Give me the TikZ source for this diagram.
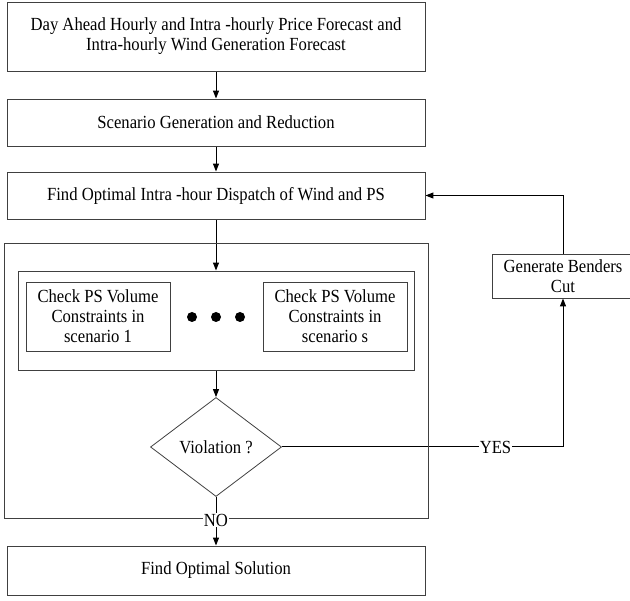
\documentclass[tikz,border=0pt]{standalone}
\usepackage{fontspec}
\setmainfont[FakeStretch=0.9]{Liberation Serif}
\usepackage{tikz}
\usetikzlibrary{shapes.geometric, arrows.meta}
\pgfdeclarelayer{edgelayer}
\pgfdeclarelayer{nodelayer}
\pgfsetlayers{edgelayer,nodelayer,main}
\tikzstyle{none}=[inner sep=0pt]
\tikzstyle{block}=[draw=black!75, line width=0.9pt, inner sep=0pt, align=center]
\tikzstyle{frame}=[draw=black!75, line width=0.9pt, inner sep=0pt]
\tikzstyle{dot}=[circle, fill=black, inner sep=0pt, minimum size=10pt]
\tikzstyle{decision}=[diamond, draw=black!75, line width=0.8pt, inner sep=0pt]
\tikzstyle{tag}=[fill=white, inner sep=1pt]
\tikzstyle{edge}=[draw=black, line width=1pt]
\tikzstyle{arrow}=[edge, -{Triangle[length=8pt, width=6pt]}]

\begin{document}
\begin{tikzpicture}[x=1pt, y=-1pt, font=\fontsize{18.5}{20}\selectfont]
			\useasboundingbox (0, 0) rectangle (630, 601);
			\begin{pgfonlayer}{nodelayer}
			\node [style=block, minimum width=418pt, minimum height=69pt] (0) at (216, 36.5) {Day Ahead Hourly and Intra -hourly Price Forecast and\\Intra-hourly Wind Generation Forecast};
			\node [style=block, minimum width=418pt, minimum height=47pt] (1) at (216, 122.5) {Scenario Generation and Reduction};
			\node [style=block, minimum width=418pt, minimum height=47pt] (2) at (216, 195.5) {Find Optimal Intra -hour Dispatch of Wind and PS};
			\node [style=frame, minimum width=424pt, minimum height=275pt] (3) at (216, 380.5) {};
			\node [style=frame, minimum width=396pt, minimum height=99pt] (4) at (216, 320.5) {};
			\node [style=block, minimum width=144pt, minimum height=69pt] (5) at (98, 316.5) {Check PS Volume\\Constraints in\\scenario 1};
			\node [style=block, minimum width=144pt, minimum height=69pt] (6) at (335, 316.5) {Check PS Volume\\Constraints in\\scenario s};
			\node [style=dot] (7) at (192, 317) {};
			\node [style=dot] (8) at (216, 317) {};
			\node [style=dot] (9) at (240, 317) {};
			\node [style=decision, minimum width=131pt, minimum height=99pt] (10) at (216, 447) {Violation ?};
			\node [style=block, minimum width=142pt, minimum height=44pt] (11) at (563, 276) {Generate Benders\\Cut};
			\node [style=tag] (12) at (495.5, 447) {YES};
			\node [style=tag] (13) at (216, 520) {NO};
			\node [style=block, minimum width=418pt, minimum height=49pt] (14) at (216, 570.5) {Find Optimal Solution};
			\end{pgfonlayer}
			\begin{pgfonlayer}{edgelayer}
			\draw [style=arrow] (0) to (1);
			\draw [style=arrow] (1) to (2);
			\draw [style=arrow] (2) to (4);
			\draw [style=arrow] (4) to (10);
			\draw [style=edge] (10) to (12);
			\draw [style=arrow] (12) -| (11);
			\draw [style=arrow] (11) |- (2);
			\draw [style=edge] (10) to (13);
			\draw [style=arrow] (13) to (14);
			\end{pgfonlayer}
			\end{tikzpicture}
\end{document}
